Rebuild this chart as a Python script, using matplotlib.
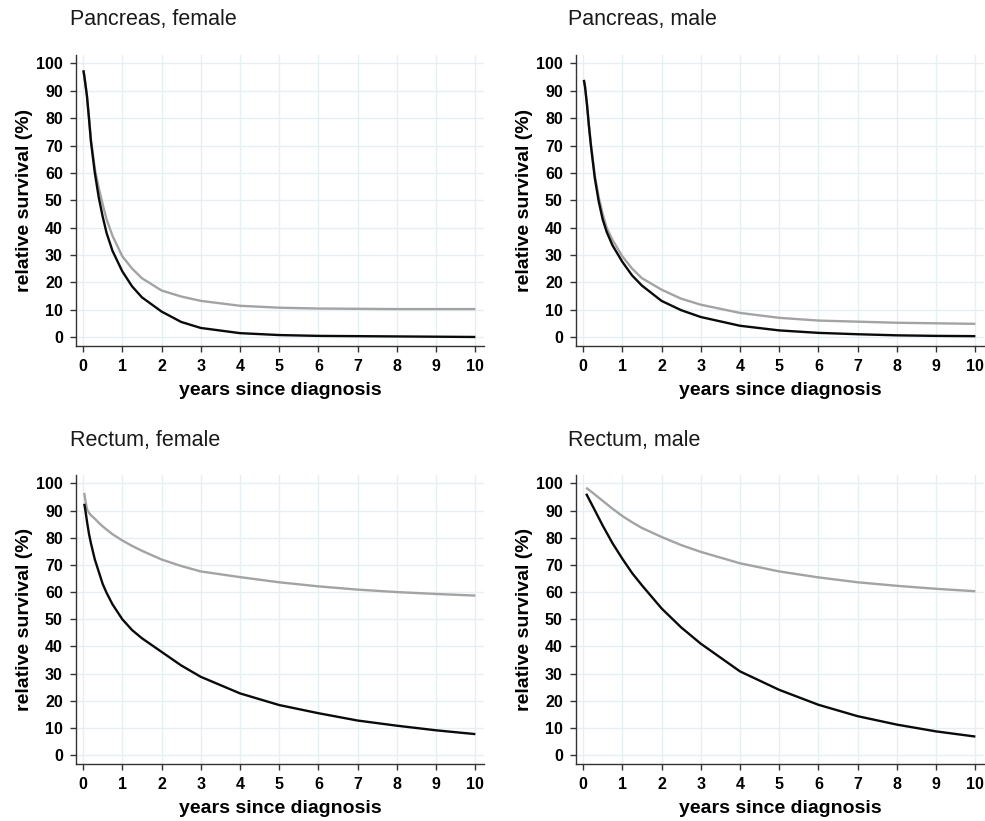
import matplotlib
matplotlib.use("Agg")
import matplotlib.pyplot as plt

plt.rcParams["font.family"] = ["Liberation Sans", "DejaVu Sans"]

panel_titles = ["Pancreas, female", "Pancreas, male", "Rectum, female", "Rectum, male"]

years_pf = [0.01, 0.05, 0.1, 0.15, 0.2, 0.3, 0.4, 0.5, 0.6, 0.75, 1, 1.25, 1.5, 2, 2.5, 3, 4, 5, 6, 7, 8, 9, 10]
years_pm = [0.02, 0.05, 0.1, 0.15, 0.2, 0.3, 0.4, 0.5, 0.6, 0.75, 1, 1.25, 1.5, 2, 2.5, 3, 4, 5, 6, 7, 8, 9, 10]
years_rf = [0.03, 0.05, 0.1, 0.15, 0.2, 0.3, 0.4, 0.5, 0.6, 0.75, 1, 1.25, 1.5, 2, 2.5, 3, 4, 5, 6, 7, 8, 9, 10]
years_rm = [0.08, 0.25, 0.5, 0.75, 1, 1.25, 1.5, 2, 2.5, 3, 4, 5, 6, 7, 8, 9, 10]

# black curves
pancreas_female_black = [97.5, 93.5, 88, 80, 71.5, 60, 51, 44, 38, 31.5, 24, 18.5, 14.5, 9.3,
                         5.5, 3.3, 1.4, 0.7, 0.4, 0.3, 0.2, 0.1, 0.0]
pancreas_male_black = [94, 91.5, 85, 77, 70, 58, 49.5, 43, 38.5, 33.5, 27.5, 22.5, 18.8, 13.2,
                       9.8, 7.3, 4.1, 2.4, 1.5, 1.0, 0.6, 0.4, 0.3]
rectum_female_black = [92.5, 91, 86, 81.5, 78, 72, 67.5, 63, 59.7, 55.5, 50, 46, 43, 38,
                       33, 28.8, 22.7, 18.4, 15.4, 12.7, 10.8, 9.1, 7.7]
rectum_male_black = [96.2, 91.5, 84.5, 78, 72.3, 67, 62.5, 54, 47, 41, 30.8, 24, 18.5, 14.3,
                     11.2, 8.7, 6.8]

# grey curves
pancreas_female_grey = [97.5, 93.5, 88, 80.5, 72.5, 61.5, 54.5, 48.5, 43, 37, 29.5, 25, 21.5, 17,
                        14.8, 13.2, 11.4, 10.7, 10.4, 10.3, 10.2, 10.2, 10.2]
pancreas_male_grey = [94, 91.5, 85, 77.5, 70.5, 59, 51, 45, 40, 35.5, 29.5, 25, 21.5, 17.3,
                      14, 11.8, 8.8, 7.0, 6.0, 5.6, 5.2, 5.0, 4.8]
rectum_female_grey = [96.5, 94.5, 90.5, 89.2, 88.3, 87, 85.5, 84.2, 83, 81.3, 79, 77, 75.2, 72,
                      69.6, 67.6, 65.5, 63.6, 62.1, 60.9, 60.0, 59.3, 58.7]
rectum_male_grey = [98.4, 96.5, 93.6, 90.7, 88, 85.7, 83.6, 80.3, 77.3, 74.8, 70.6, 67.6, 65.4, 63.6,
                    62.3, 61.2, 60.3]

year_series = [years_pf, years_pm, years_rf, years_rm]
black_series = [pancreas_female_black, pancreas_male_black, rectum_female_black, rectum_male_black]
grey_series = [pancreas_female_grey, pancreas_male_grey, rectum_female_grey, rectum_male_grey]

W, H = 985, 821
fig = plt.figure(figsize=(W / 100, H / 100), dpi=100)

# panel boxes in pixels: left, top, right, bottom
boxes = [(76, 55, 484, 346), (576, 55, 984, 346),
         (76, 475, 484, 764), (576, 475, 984, 764)]
title_pos = [(70, 20), (568, 20), (70, 440), (568, 440)]

spine_col = "#333333"
grid_col = "#e6eff1"

for i in range(4):
    l, t, r, b = boxes[i]
    ax = fig.add_axes([l / W, (H - b) / H, (r - l) / W, (b - t) / H])
    ax.set_xlim(-0.18, 10.22)
    ax.set_ylim(-3.3, 103.1)
    ax.set_xticks(range(0, 11))
    ax.set_yticks(range(0, 101, 10))
    ax.grid(True, color=grid_col, linewidth=1.0)
    ax.set_axisbelow(True)
    for s in ["top", "right"]:
        ax.spines[s].set_visible(False)
    for s in ["left", "bottom"]:
        ax.spines[s].set_color(spine_col)
        ax.spines[s].set_linewidth(1.0)
    ax.tick_params(direction="out", length=4.5, width=1.0, color=spine_col,
                   labelsize=11.5, pad=5)
    for lab in ax.get_xticklabels() + ax.get_yticklabels():
        lab.set_fontweight("bold")

    x = year_series[i]
    ax.plot(x, grey_series[i], color="#a3a3a3", linewidth=1.7, solid_capstyle="butt")
    ax.plot(x, black_series[i], color="#0a0a0a", linewidth=1.7, solid_capstyle="butt")

    ax.set_ylabel("relative survival (%)", fontsize=14, fontweight="bold")
    ax.set_xlabel("years since diagnosis", fontsize=14, fontweight="bold")
    ax.yaxis.set_label_coords(-0.106, 0.5)
    ax.xaxis.set_label_coords(0.5, -0.124)

    tx, ty = title_pos[i]
    fig.text(tx / W, (H - ty) / H, panel_titles[i], fontsize=15.5,
             ha="left", va="center", color="#1a1a1a")

fig.savefig("out.png", dpi=100)
